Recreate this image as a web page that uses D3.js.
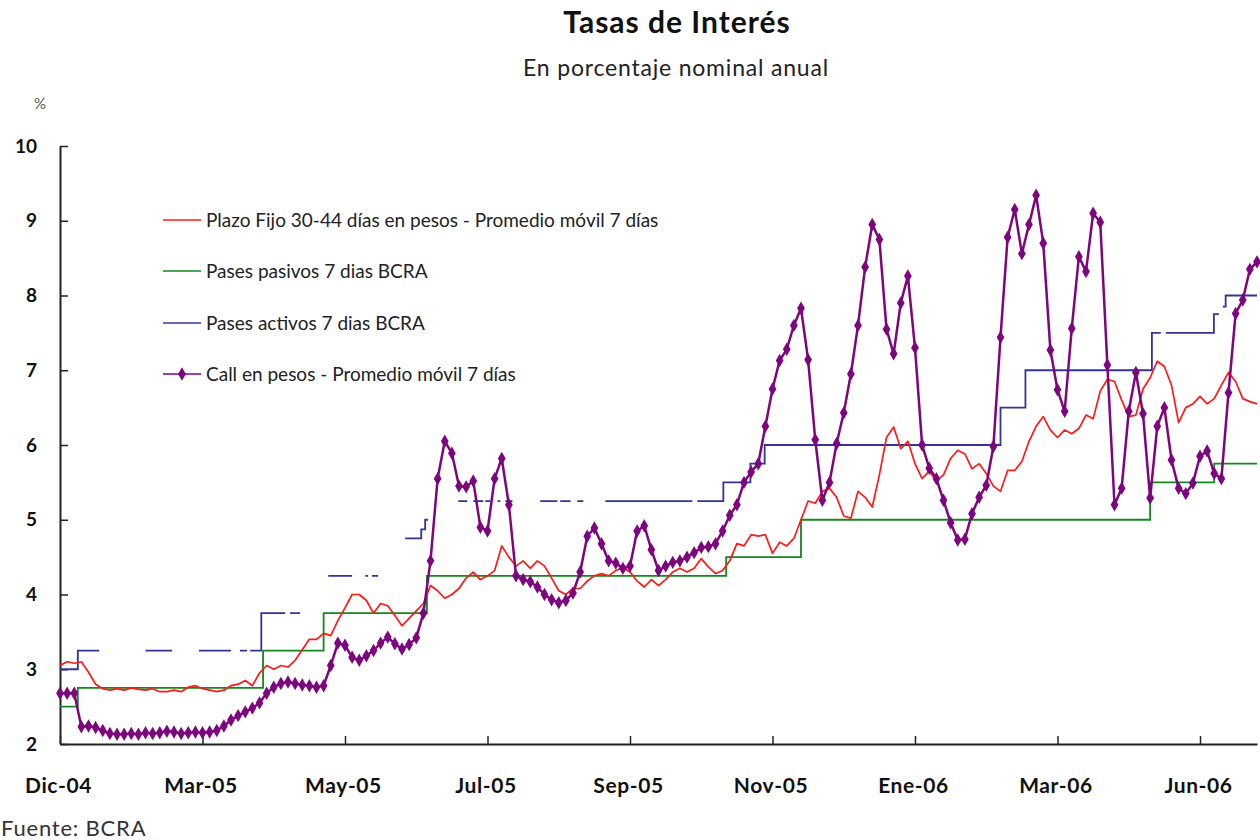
<!DOCTYPE html>
<html>
<head>
<meta charset="utf-8">
<script src="https://cdn.jsdelivr.net/npm/d3@7"></script>
<style>
  body { margin: 0; background: #fff; }
  text { font-family: Lato, "Open Sans", sans-serif; }
</style>
</head>
<body>
<div id="wrapper"></div>
<script>
(function () {
  "use strict";

  // DATA (x = observation number, one sample every 2 observations)
  const sampleStep = 2
  const tickIndex = [0, 40, 80, 120, 160, 200, 240, 280, 320]
  const tickLabels = ["Dic-04", "Mar-05", "May-05", "Jul-05", "Sep-05", "Nov-05", "Ene-06", "Mar-06", "Jun-06"]
  const yTicks = [2, 3, 4, 5, 6, 7, 8, 9, 10]

  const plazoFijo = [3.05, 3.1, 3.08, 3.1, 2.96, 2.8, 2.74, 2.72, 2.74, 2.72,
    2.75, 2.73, 2.72, 2.74, 2.7, 2.7, 2.72, 2.7, 2.76, 2.78,
    2.74, 2.72, 2.7, 2.72, 2.78, 2.8, 2.85, 2.78, 2.95, 3.05,
    3.0, 3.05, 3.03, 3.12, 3.26, 3.4, 3.4, 3.48, 3.45, 3.65,
    3.82, 4.0, 4.0, 3.92, 3.75, 3.88, 3.85, 3.72, 3.58, 3.68,
    3.78, 3.88, 4.12, 4.05, 3.95, 4.0, 4.08, 4.22, 4.3, 4.2,
    4.25, 4.32, 4.65, 4.5, 4.38, 4.45, 4.35, 4.45, 4.38, 4.22,
    4.05, 4.0, 4.08, 4.08, 4.18, 4.25, 4.28, 4.25, 4.32, 4.36,
    4.3, 4.18, 4.1, 4.2, 4.12, 4.2, 4.3, 4.35, 4.3, 4.35,
    4.48, 4.37, 4.28, 4.32, 4.45, 4.68, 4.65, 4.8, 4.78, 4.8,
    4.55, 4.7, 4.65, 4.75, 5.0, 5.25, 5.22, 5.38, 5.42, 5.3,
    5.05, 5.02, 5.38, 5.3, 5.17, 5.6, 6.1, 6.24, 5.95, 6.05,
    5.75, 5.55, 5.65, 5.52, 5.6, 5.82, 5.93, 5.88, 5.68, 5.75,
    5.62, 5.45, 5.38, 5.66, 5.66, 5.78, 6.05, 6.25, 6.38, 6.2,
    6.1, 6.2, 6.15, 6.22, 6.4, 6.35, 6.72, 6.88, 6.85, 6.6,
    6.38, 6.4, 6.75, 6.9, 7.12, 7.05, 6.8, 6.3, 6.5, 6.55,
    6.65, 6.55, 6.62, 6.8, 6.97, 6.85, 6.62, 6.58, 6.55]

  const callPesos = [2.68, 2.68, 2.68, 2.23, 2.24, 2.22, 2.18, 2.14, 2.13, 2.13,
    2.14, 2.13, 2.15, 2.14, 2.15, 2.17, 2.16, 2.14, 2.15, 2.16,
    2.15, 2.16, 2.18, 2.24, 2.32, 2.38, 2.43, 2.48, 2.55, 2.68,
    2.76, 2.81, 2.83, 2.81, 2.79, 2.78, 2.76, 2.78, 3.05, 3.35,
    3.32, 3.16, 3.12, 3.18, 3.25, 3.35, 3.43, 3.34, 3.27, 3.33,
    3.42, 3.75, 4.45, 5.55, 6.05, 5.89, 5.45, 5.44, 5.52, 4.9,
    4.85, 5.55, 5.82, 5.2, 4.25, 4.2, 4.17, 4.1, 4.0, 3.93,
    3.89, 3.92, 4.02, 4.3, 4.78, 4.89, 4.68, 4.45, 4.42, 4.35,
    4.38, 4.85, 4.92, 4.6, 4.32, 4.38, 4.43, 4.45, 4.5, 4.56,
    4.63, 4.64, 4.68, 4.85, 5.06, 5.2, 5.5, 5.64, 5.75, 6.25,
    6.75, 7.13, 7.28, 7.6, 7.83, 7.14, 6.07, 5.26, 5.5, 6.02,
    6.43, 6.95, 7.6, 8.38, 8.95, 8.75, 7.55, 7.22, 7.9, 8.26,
    7.3, 6.0, 5.69, 5.55, 5.26, 4.96, 4.73, 4.74, 5.08, 5.3,
    5.46, 5.98, 7.44, 8.78, 9.15, 8.56, 8.95, 9.34, 8.7, 7.27,
    6.74, 6.45, 7.56, 8.52, 8.32, 9.1, 8.98, 7.07, 5.2, 5.42,
    6.45, 6.97, 6.42, 5.29, 6.25, 6.5, 5.8, 5.42, 5.35, 5.49,
    5.85, 5.92, 5.62, 5.55, 6.7, 7.76, 7.94, 8.35, 8.45]

  // step series: observation where each rate starts
  const pasivosIdx = [0, 5, 57, 74, 103, 187, 208, 306, 324, 336]
  const pasivosVal = [2.5, 2.75, 3.25, 3.75, 4.25, 4.5, 5.0, 5.5, 5.75, 5.75]

  // null = no quote (gap in the line)
  const activosIdx = [0, 5, 11, 11,
    24, 31.5, 31.5,
    39, 48, 48,
    50.5, 52.5, 52.5,
    53.4, 56.5, 63.2, 63.2,
    64.6, 67.4, 67.4,
    75.3, 82, 82,
    85.7, 86.5, 86.5,
    87.6, 89.3, 89.3,
    96.9, 101.4, 102.5, 103.3, 103.3,
    111.8, 114.3, 114.3,
    116, 118.8, 118.8,
    119.4, 120.8, 120.8,
    122.8, 123.6, 123.6,
    125, 127, 127,
    134.8, 139.6, 139.6,
    140.4, 143.3, 143.3,
    145.2, 146.9, 146.9,
    153.1, 177.5, 177.5,
    178.9, 186.2, 193.8, 197.8, 264, 271, 306.5, 309, 309,
    310.4, 323.9, 325.3, 325.3,
    326.4, 327.2, 336]
  const activosVal = [3.0, 3.25, 3.25, null,
    3.25, 3.25, null,
    3.25, 3.25, null,
    3.25, 3.25, null,
    3.25, 3.75, 3.75, null,
    3.75, 3.75, null,
    4.25, 4.25, null,
    4.25, 4.25, null,
    4.25, 4.25, null,
    4.75, 4.87, 5.0, 5.0, null,
    5.25, 5.25, null,
    5.25, 5.25, null,
    5.25, 5.25, null,
    5.25, 5.25, null,
    5.25, 5.25, null,
    5.25, 5.25, null,
    5.25, 5.25, null,
    5.25, 5.25, null,
    5.25, 5.25, null,
    5.25, 5.5, 5.75, 6.0, 6.5, 7.0, 7.5, 7.5, null,
    7.5, 7.75, 7.75, null,
    7.85, 8.0, 8.0]

  const legendLabels = [
    "Plazo Fijo 30-44 días en pesos - Promedio móvil 7 días",
    "Pases pasivos 7 dias BCRA",
    "Pases activos 7 dias BCRA",
    "Call en pesos - Promedio móvil 7 días"
  ]

  const colors = {
    plazo: "#ff1a1a",
    pasivos: "#14871f",
    activos: "#333399",
    call: "#7d057d"
  }

  // DIMENSIONS
  const dimensions = {
    width: 1260,
    height: 840,
    left: 60,
    right: 1257,
    top: 146,
    bottom: 744
  }

  const svg = d3.select("#wrapper").append("svg")
    .attr("width", dimensions.width)
    .attr("height", dimensions.height)

  // SCALES
  const xScale = d3.scaleLinear()
    .domain([0, 336])
    .range([dimensions.left, dimensions.right])

  const yScale = d3.scaleLinear()
    .domain([2, 10])
    .range([dimensions.bottom, dimensions.top])

  // TITLES
  svg.append("text")
    .attr("x", 677).attr("y", 33)
    .attr("text-anchor", "middle")
    .style("font-size", "30px").style("font-weight", "bold")
    .style("letter-spacing", "1px")
    .attr("fill", "#111")
    .text("Tasas de Interés")

  svg.append("text")
    .attr("x", 676).attr("y", 76)
    .attr("text-anchor", "middle")
    .style("font-size", "23px")
    .style("letter-spacing", "0.8px")
    .attr("fill", "#222")
    .text("En porcentaje nominal anual")

  svg.append("text")
    .attr("x", 40).attr("y", 109)
    .attr("text-anchor", "middle")
    .style("font-size", "15px")
    .attr("fill", "#555")
    .text("%")

  svg.append("text")
    .attr("x", 1).attr("y", 836)
    .style("font-size", "22px")
    .style("letter-spacing", "0.8px")
    .attr("fill", "#333")
    .text("Fuente: BCRA")

  // AXES
  const xAxisGenerator = d3.axisBottom(xScale)
    .tickValues(tickIndex)
    .tickFormat((d, i) => tickLabels[i])
    .tickSizeInner(-8)
    .tickSizeOuter(0)
    .tickPadding(34)

  const xAxis = svg.append("g")
    .attr("transform", `translate(0,${dimensions.bottom})`)
    .call(xAxisGenerator)

  xAxis.select(".domain").attr("stroke", "#222").attr("stroke-width", 2.2)
  xAxis.selectAll(".tick line").attr("stroke", "#222").attr("stroke-width", 1.5)
  xAxis.selectAll(".tick text")
    .attr("fill", "#111")
    .style("font-size", "21px").style("font-weight", "bold")
    .style("letter-spacing", "0.6px")
    .style("font-family", "Lato, sans-serif")
    .attr("dx", -2)

  const yAxisGenerator = d3.axisLeft(yScale)
    .tickValues(yTicks)
    .tickSizeInner(-8)
    .tickSizeOuter(0)
    .tickPadding(23)

  const yAxis = svg.append("g")
    .attr("transform", `translate(${dimensions.left},0)`)
    .call(yAxisGenerator)

  yAxis.select(".domain").attr("stroke", "#222").attr("stroke-width", 2)
  yAxis.selectAll(".tick line").attr("stroke", "#222").attr("stroke-width", 1.5)
  yAxis.selectAll(".tick text")
    .attr("fill", "#111")
    .style("font-size", "19px").style("font-weight", "bold")
    .style("font-family", "Lato, sans-serif")

  // LINES
  const plazoData = plazoFijo.map((v, i) => ({ x: i * sampleStep, y: v }))
  const callData = callPesos.map((v, i) => ({ x: i * sampleStep, y: v }))
  const pasivosData = pasivosIdx.map((x, i) => ({ x: x, y: pasivosVal[i] }))
  const activosData = activosIdx.map((x, i) => ({ x: x, y: activosVal[i] }))

  const smoothLine = d3.line()
    .x(d => xScale(d.x))
    .y(d => yScale(d.y))

  const stepLine = d3.line()
    .defined(d => d.y !== null)
    .x(d => xScale(d.x))
    .y(d => yScale(d.y))
    .curve(d3.curveStepAfter)

  svg.append("path")
    .datum(activosData)
    .attr("d", stepLine)
    .attr("fill", "none")
    .attr("stroke", colors.activos)
    .attr("stroke-width", 1.8)

  svg.append("path")
    .datum(pasivosData)
    .attr("d", stepLine)
    .attr("fill", "none")
    .attr("stroke", colors.pasivos)
    .attr("stroke-width", 1.8)

  svg.append("path")
    .datum(plazoData)
    .attr("d", smoothLine)
    .attr("fill", "none")
    .attr("stroke", colors.plazo)
    .attr("stroke-width", 1.7)
    .attr("stroke-linejoin", "round")

  svg.append("path")
    .datum(callData)
    .attr("d", smoothLine)
    .attr("fill", "none")
    .attr("stroke", colors.call)
    .attr("stroke-width", 2.5)

  const marker = d3.symbol().type(d3.symbolDiamond).size(52)

  svg.append("g").selectAll("path")
    .data(callData)
    .enter()
    .append("path")
    .attr("d", marker)
    .attr("transform", d => `translate(${xScale(d.x)},${yScale(d.y)})`)
    .attr("fill", colors.call)

  // LEGEND
  const legendColors = [colors.plazo, colors.pasivos, colors.activos, colors.call]
  const legendY = [220, 271, 323, 374]

  const legend = svg.append("g")
  legendLabels.forEach((label, i) => {
    legend.append("line")
      .attr("x1", 163).attr("x2", 201)
      .attr("y1", legendY[i]).attr("y2", legendY[i])
      .attr("stroke", legendColors[i])
      .attr("stroke-width", 1.6)
    legend.append("text")
      .attr("x", 206).attr("y", legendY[i])
      .attr("dy", "0.35em")
      .style("font-size", "19px")
      .attr("fill", "#222")
      .text(label)
  })
  legend.append("path")
    .attr("d", marker)
    .attr("transform", `translate(182,${legendY[3]})`)
    .attr("fill", colors.call)

})();
</script>
</body>
</html>
